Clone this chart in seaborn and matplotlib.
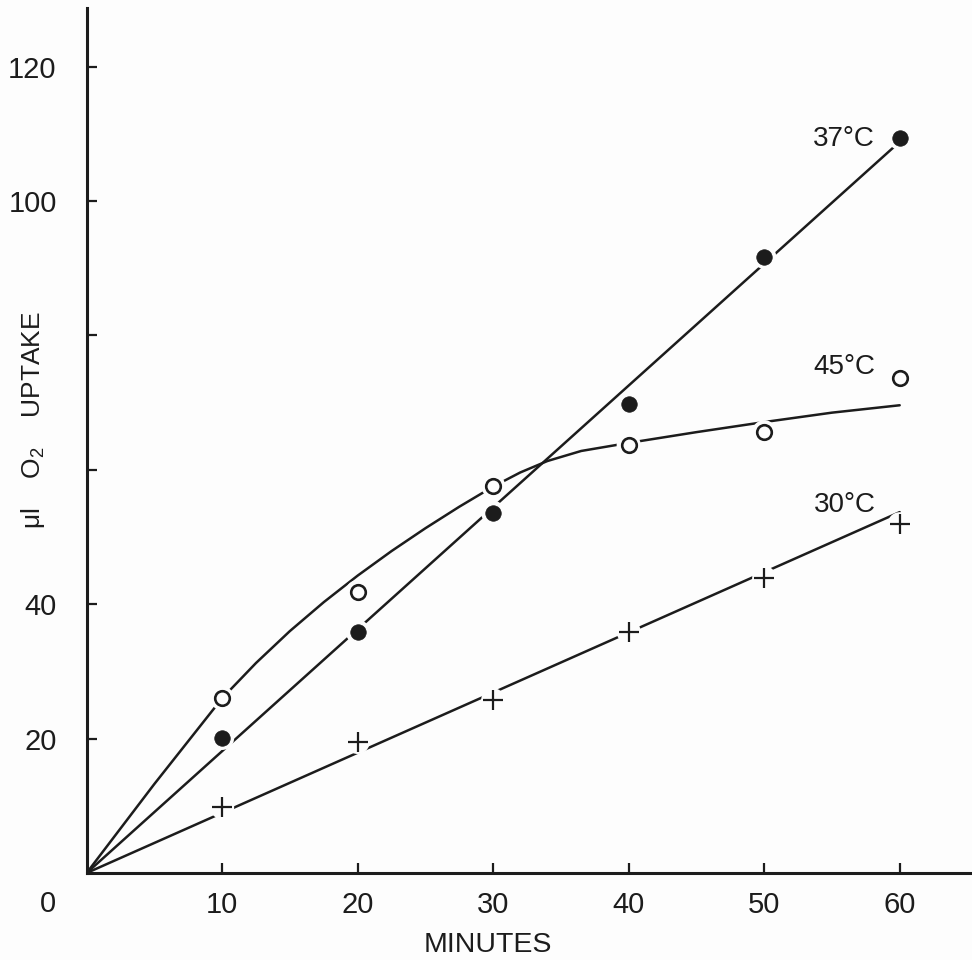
import numpy as np
import pandas as pd
import matplotlib
matplotlib.use("Agg")
import matplotlib.pyplot as plt
import seaborn as sns

# Oxygen uptake measured at three incubation temperatures
minutes = [10, 20, 30, 40, 50, 60]
uptake_37 = [20.1, 35.9, 53.6, 69.8, 91.7, 109.4]
uptake_45 = [26.0, 41.8, 57.6, 63.7, 65.6, 73.7]
uptake_30 = [9.8, 19.5, 25.7, 35.9, 43.9, 51.9]

# Hand-fitted trend lines
fit_minutes_straight = [0, 60]
fit_37 = [0, 108.8]
fit_30 = [0, 53.7]
fit_minutes_45 = [0, 5, 10, 12.5, 15, 17.5, 20, 22.5, 25, 27.5, 30, 32, 34,
                  36.5, 40, 45, 50, 55, 60]
fit_45 = [0, 13.25, 26.0, 31.25, 36.0, 40.3, 44.25, 47.9, 51.3, 54.5, 57.5,
          59.6, 61.3, 62.8, 64.0, 65.6, 67.1, 68.5, 69.6]

x_ticks = [10, 20, 30, 40, 50, 60]
y_ticks = [20, 40, 60, 80, 100, 120]
y_tick_labels = ["20", "40", "", "", "100", "120"]
series_labels = ["37°C", "45°C", "30°C"]

sns.set_theme(style="white")
plt.rcParams["font.family"] = ["Liberation Sans", "DejaVu Sans"]
plt.rcParams["mathtext.fontset"] = "custom"
plt.rcParams["mathtext.rm"] = "Liberation Sans"

ink = "#1c1c1c"
paper = "#fdfdfd"

points = pd.DataFrame({
    "minutes": minutes * 3,
    "uptake": uptake_37 + uptake_45 + uptake_30,
    "temp": ["37"] * 6 + ["45"] * 6 + ["30"] * 6,
})
fits = pd.concat([
    pd.DataFrame({"minutes": fit_minutes_straight, "uptake": fit_37, "temp": "37"}),
    pd.DataFrame({"minutes": fit_minutes_45, "uptake": fit_45, "temp": "45"}),
    pd.DataFrame({"minutes": fit_minutes_straight, "uptake": fit_30, "temp": "30"}),
], ignore_index=True)

fig = plt.figure(figsize=(9.72, 9.6), dpi=100, facecolor=paper)
ax = fig.add_axes([0.0891, 0.0906, 0.909, 0.901])
ax.set_facecolor(paper)

# fitted curves
for temp in ["37", "45", "30"]:
    sns.lineplot(data=fits[fits["temp"] == temp], x="minutes", y="uptake",
                 color=ink, linewidth=1.8, ax=ax, zorder=2, legend=False,
                 sort=False)

# white halos break the lines around each symbol
sns.scatterplot(data=points, x="minutes", y="uptake", s=300, color=paper,
                edgecolor="none", linewidth=0, ax=ax, zorder=3, legend=False)

p37 = points[points["temp"] == "37"]
p45 = points[points["temp"] == "45"]
p30 = points[points["temp"] == "30"]
sns.scatterplot(data=p37, x="minutes", y="uptake", s=125, color=ink,
                edgecolor=ink, linewidth=0.5, ax=ax, zorder=4, legend=False)
sns.scatterplot(data=p45, x="minutes", y="uptake", s=110, facecolor=paper,
                edgecolor=ink, linewidth=1.9, ax=ax, zorder=4, legend=False)
sns.scatterplot(data=p30, x="minutes", y="uptake", s=200, marker="+", color=ink,
                linewidth=1.6, ax=ax, zorder=4, legend=False)

# curve labels
label_pos = [(53.6, 109.2), (53.6, 75.3), (53.7, 54.8)]
for text, (lx, ly) in zip(series_labels, label_pos):
    ax.text(lx, ly, text, fontsize=20, color=ink, ha="left", va="center")

ax.set_xlim(0, 65.2)
ax.set_ylim(0, 128.7)
ax.set_xticks(x_ticks)
ax.set_xticklabels([str(t) for t in x_ticks])
ax.set_yticks(y_ticks)
ax.set_yticklabels(y_tick_labels)

for side in ["top", "right"]:
    ax.spines[side].set_visible(False)
for side in ["left", "bottom"]:
    ax.spines[side].set_color(ink)
    ax.spines[side].set_linewidth(2.2)

ax.tick_params(axis="both", direction="in", length=7.5, width=1.6, colors=ink,
               labelsize=21)
ax.tick_params(axis="y", pad=21.5)
ax.tick_params(axis="x", pad=13)
ax.tick_params(axis="x", which="both", bottom=True)
ax.tick_params(axis="y", which="both", left=True)

ax.annotate("0", xy=(0, 0), xycoords="data", xytext=(-28, -22),
            textcoords="offset points", fontsize=21, color=ink,
            ha="center", va="center")

ax.set_xlabel("MINUTES", fontsize=20.5, color=ink)
ax.xaxis.set_label_coords(0.454, -0.083)
ax.xaxis.label.set_verticalalignment("center")

ax.set_ylabel("μl    O$_2$    UPTAKE", fontsize=19, color=ink)
ax.yaxis.set_label_coords(-0.061, 0.524)
ax.yaxis.label.set_verticalalignment("center")

fig.savefig("out.png", dpi=100, facecolor=paper)
